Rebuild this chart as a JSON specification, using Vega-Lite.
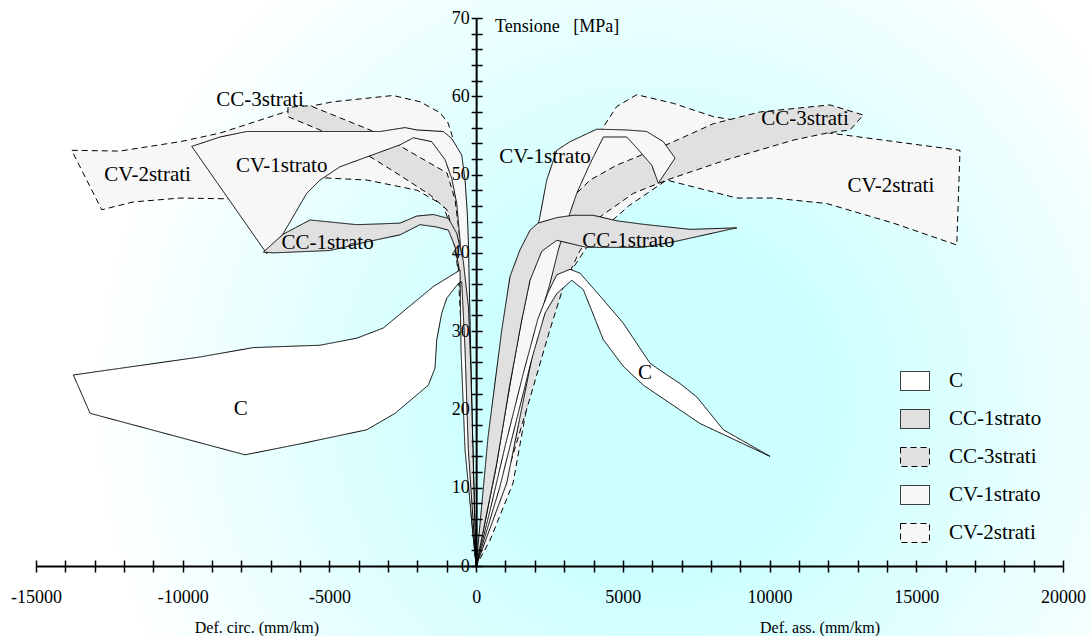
{
  "$schema": "https://vega.github.io/schema/vega-lite/v6.json",
  "width": 1027,
  "height": 548,
  "autosize": {"type": "none"},
  "padding": {"left": 36, "top": 18, "right": 27, "bottom": 70},
  "config": {"view": {"stroke": null}, "font": "Liberation Serif"},
  "resolve": {"axis": {"x": "independent", "y": "independent"}},
  "datasets": {
    "bg": [{"x": -16230, "x2": 20930, "y": 72.4, "y2": -9}],
    "poly": [
      {"s":"CV-2strati","side":"L","i":0,"x":0,"y":0},
      {"s":"CV-2strati","side":"L","i":1,"x":-100,"y":12},
      {"s":"CV-2strati","side":"L","i":2,"x":-220,"y":26},
      {"s":"CV-2strati","side":"L","i":3,"x":-380,"y":40},
      {"s":"CV-2strati","side":"L","i":4,"x":-560,"y":50},
      {"s":"CV-2strati","side":"L","i":5,"x":-821,"y":55},
      {"s":"CV-2strati","side":"L","i":6,"x":-958,"y":56.6},
      {"s":"CV-2strati","side":"L","i":7,"x":-1230,"y":57.9},
      {"s":"CV-2strati","side":"L","i":8,"x":-1909,"y":59.3},
      {"s":"CV-2strati","side":"L","i":9,"x":-2832,"y":60.1},
      {"s":"CV-2strati","side":"L","i":10,"x":-4877,"y":59.3},
      {"s":"CV-2strati","side":"L","i":11,"x":-6342,"y":58.2},
      {"s":"CV-2strati","side":"L","i":12,"x":-8728,"y":55.3},
      {"s":"CV-2strati","side":"L","i":13,"x":-10090,"y":54.2},
      {"s":"CV-2strati","side":"L","i":14,"x":-12150,"y":53},
      {"s":"CV-2strati","side":"L","i":15,"x":-13785,"y":53.1},
      {"s":"CV-2strati","side":"L","i":16,"x":-12760,"y":45.5},
      {"s":"CV-2strati","side":"L","i":17,"x":-11693,"y":46.5},
      {"s":"CV-2strati","side":"L","i":18,"x":-10090,"y":47},
      {"s":"CV-2strati","side":"L","i":19,"x":-8386,"y":46.9},
      {"s":"CV-2strati","side":"L","i":20,"x":-6800,"y":48.2},
      {"s":"CV-2strati","side":"L","i":21,"x":-5320,"y":49.6},
      {"s":"CV-2strati","side":"L","i":22,"x":-3718,"y":49.3},
      {"s":"CV-2strati","side":"L","i":23,"x":-2014,"y":48},
      {"s":"CV-2strati","side":"L","i":24,"x":-1128,"y":46.1},
      {"s":"CV-2strati","side":"L","i":25,"x":-821,"y":42.9},
      {"s":"CV-2strati","side":"L","i":26,"x":-617,"y":37.8},
      {"s":"CV-2strati","side":"L","i":27,"x":-450,"y":26},
      {"s":"CV-2strati","side":"L","i":28,"x":-280,"y":13},
      {"s":"CV-2strati","side":"L","i":29,"x":0,"y":0},

      {"s":"CV-2strati","side":"R","i":0,"x":0,"y":0},
      {"s":"CV-2strati","side":"R","i":1,"x":700,"y":9},
      {"s":"CV-2strati","side":"R","i":2,"x":1400,"y":20},
      {"s":"CV-2strati","side":"R","i":3,"x":2100,"y":31},
      {"s":"CV-2strati","side":"R","i":4,"x":2800,"y":41},
      {"s":"CV-2strati","side":"R","i":5,"x":3500,"y":49},
      {"s":"CV-2strati","side":"R","i":6,"x":4000,"y":53.5},
      {"s":"CV-2strati","side":"R","i":7,"x":4338,"y":56.1},
      {"s":"CV-2strati","side":"R","i":8,"x":4792,"y":58.7},
      {"s":"CV-2strati","side":"R","i":9,"x":5473,"y":60.2},
      {"s":"CV-2strati","side":"R","i":10,"x":6721,"y":59.1},
      {"s":"CV-2strati","side":"R","i":11,"x":8084,"y":57.4},
      {"s":"CV-2strati","side":"R","i":12,"x":9675,"y":56.4},
      {"s":"CV-2strati","side":"R","i":13,"x":12060,"y":55.3},
      {"s":"CV-2strati","side":"R","i":14,"x":16490,"y":53.1},
      {"s":"CV-2strati","side":"R","i":15,"x":16380,"y":41},
      {"s":"CV-2strati","side":"R","i":16,"x":14218,"y":43.8},
      {"s":"CV-2strati","side":"R","i":17,"x":11948,"y":46.3},
      {"s":"CV-2strati","side":"R","i":18,"x":10129,"y":47},
      {"s":"CV-2strati","side":"R","i":19,"x":8881,"y":47},
      {"s":"CV-2strati","side":"R","i":20,"x":6495,"y":49.3},
      {"s":"CV-2strati","side":"R","i":21,"x":5200,"y":46},
      {"s":"CV-2strati","side":"R","i":22,"x":4000,"y":42},
      {"s":"CV-2strati","side":"R","i":23,"x":3200,"y":37.5},
      {"s":"CV-2strati","side":"R","i":24,"x":2519,"y":32.3},
      {"s":"CV-2strati","side":"R","i":25,"x":2076,"y":27.6},
      {"s":"CV-2strati","side":"R","i":26,"x":1258,"y":10.6},
      {"s":"CV-2strati","side":"R","i":27,"x":474,"y":3.3},
      {"s":"CV-2strati","side":"R","i":28,"x":0,"y":0},

      {"s":"CC-3strati","side":"L","i":0,"x":0,"y":0},
      {"s":"CC-3strati","side":"L","i":1,"x":-208,"y":21.2},
      {"s":"CC-3strati","side":"L","i":2,"x":-378,"y":34},
      {"s":"CC-3strati","side":"L","i":3,"x":-549,"y":41.6},
      {"s":"CC-3strati","side":"L","i":4,"x":-719,"y":46.8},
      {"s":"CC-3strati","side":"L","i":5,"x":-992,"y":50.2},
      {"s":"CC-3strati","side":"L","i":6,"x":-2662,"y":53.8},
      {"s":"CC-3strati","side":"L","i":7,"x":-3616,"y":55.7},
      {"s":"CC-3strati","side":"L","i":8,"x":-5660,"y":58.8},
      {"s":"CC-3strati","side":"L","i":9,"x":-6413,"y":58.6},
      {"s":"CC-3strati","side":"L","i":10,"x":-6413,"y":57.4},
      {"s":"CC-3strati","side":"L","i":11,"x":-5323,"y":55.7},
      {"s":"CC-3strati","side":"L","i":12,"x":-3960,"y":53.1},
      {"s":"CC-3strati","side":"L","i":13,"x":-2594,"y":49.9},
      {"s":"CC-3strati","side":"L","i":14,"x":-1571,"y":47.4},
      {"s":"CC-3strati","side":"L","i":15,"x":-992,"y":45.5},
      {"s":"CC-3strati","side":"L","i":16,"x":-719,"y":41.6},
      {"s":"CC-3strati","side":"L","i":17,"x":-480,"y":34},
      {"s":"CC-3strati","side":"L","i":18,"x":-276,"y":21.2},
      {"s":"CC-3strati","side":"L","i":19,"x":0,"y":0},

      {"s":"CC-3strati","side":"R","i":0,"x":0,"y":0},
      {"s":"CC-3strati","side":"R","i":1,"x":600,"y":9},
      {"s":"CC-3strati","side":"R","i":2,"x":1200,"y":19},
      {"s":"CC-3strati","side":"R","i":3,"x":1800,"y":30},
      {"s":"CC-3strati","side":"R","i":4,"x":2200,"y":38},
      {"s":"CC-3strati","side":"R","i":5,"x":2700,"y":44},
      {"s":"CC-3strati","side":"R","i":6,"x":3370,"y":47.4},
      {"s":"CC-3strati","side":"R","i":7,"x":3882,"y":49.3},
      {"s":"CC-3strati","side":"R","i":8,"x":4792,"y":51.2},
      {"s":"CC-3strati","side":"R","i":9,"x":6608,"y":54},
      {"s":"CC-3strati","side":"R","i":10,"x":8084,"y":56.5},
      {"s":"CC-3strati","side":"R","i":11,"x":9675,"y":58},
      {"s":"CC-3strati","side":"R","i":12,"x":12060,"y":58.9},
      {"s":"CC-3strati","side":"R","i":13,"x":13195,"y":57.6},
      {"s":"CC-3strati","side":"R","i":14,"x":12740,"y":55.7},
      {"s":"CC-3strati","side":"R","i":15,"x":11948,"y":55.3},
      {"s":"CC-3strati","side":"R","i":16,"x":10810,"y":54.4},
      {"s":"CC-3strati","side":"R","i":17,"x":8540,"y":51.9},
      {"s":"CC-3strati","side":"R","i":18,"x":6495,"y":49.3},
      {"s":"CC-3strati","side":"R","i":19,"x":5357,"y":47.6},
      {"s":"CC-3strati","side":"R","i":20,"x":4222,"y":44.6},
      {"s":"CC-3strati","side":"R","i":21,"x":3500,"y":40},
      {"s":"CC-3strati","side":"R","i":22,"x":3000,"y":36},
      {"s":"CC-3strati","side":"R","i":23,"x":2500,"y":30},
      {"s":"CC-3strati","side":"R","i":24,"x":1800,"y":21},
      {"s":"CC-3strati","side":"R","i":25,"x":1000,"y":11},
      {"s":"CC-3strati","side":"R","i":26,"x":0,"y":0},

      {"s":"CV-1strato","side":"L","i":0,"x":0,"y":0},
      {"s":"CV-1strato","side":"L","i":1,"x":-60,"y":8},
      {"s":"CV-1strato","side":"L","i":2,"x":-130,"y":18},
      {"s":"CV-1strato","side":"L","i":3,"x":-200,"y":30},
      {"s":"CV-1strato","side":"L","i":4,"x":-266,"y":41.6},
      {"s":"CV-1strato","side":"L","i":5,"x":-300,"y":45},
      {"s":"CV-1strato","side":"L","i":6,"x":-378,"y":49.3},
      {"s":"CV-1strato","side":"L","i":7,"x":-491,"y":52.5},
      {"s":"CV-1strato","side":"L","i":8,"x":-832,"y":54.6},
      {"s":"CV-1strato","side":"L","i":9,"x":-1118,"y":55.5},
      {"s":"CV-1strato","side":"L","i":10,"x":-2024,"y":55.7},
      {"s":"CV-1strato","side":"L","i":11,"x":-2423,"y":56},
      {"s":"CV-1strato","side":"L","i":12,"x":-3275,"y":55.5},
      {"s":"CV-1strato","side":"L","i":13,"x":-7818,"y":55.5},
      {"s":"CV-1strato","side":"L","i":14,"x":-8728,"y":54.8},
      {"s":"CV-1strato","side":"L","i":15,"x":-9692,"y":53.6},
      {"s":"CV-1strato","side":"L","i":16,"x":-7136,"y":39.9},
      {"s":"CV-1strato","side":"L","i":17,"x":-6570,"y":42.5},
      {"s":"CV-1strato","side":"L","i":18,"x":-5773,"y":47.6},
      {"s":"CV-1strato","side":"L","i":19,"x":-5320,"y":49.3},
      {"s":"CV-1strato","side":"L","i":20,"x":-4638,"y":51},
      {"s":"CV-1strato","side":"L","i":21,"x":-2594,"y":53.8},
      {"s":"CV-1strato","side":"L","i":22,"x":-2140,"y":54.7},
      {"s":"CV-1strato","side":"L","i":23,"x":-1513,"y":54.2},
      {"s":"CV-1strato","side":"L","i":24,"x":-1060,"y":51.9},
      {"s":"CV-1strato","side":"L","i":25,"x":-832,"y":49.5},
      {"s":"CV-1strato","side":"L","i":26,"x":-661,"y":46.3},
      {"s":"CV-1strato","side":"L","i":27,"x":-549,"y":41.6},
      {"s":"CV-1strato","side":"L","i":28,"x":-450,"y":30},
      {"s":"CV-1strato","side":"L","i":29,"x":-330,"y":18},
      {"s":"CV-1strato","side":"L","i":30,"x":-170,"y":8},
      {"s":"CV-1strato","side":"L","i":31,"x":0,"y":0},

      {"s":"CV-1strato","side":"R","i":0,"x":0,"y":0},
      {"s":"CV-1strato","side":"R","i":1,"x":650,"y":12},
      {"s":"CV-1strato","side":"R","i":2,"x":1100,"y":22},
      {"s":"CV-1strato","side":"R","i":3,"x":1500,"y":30.5},
      {"s":"CV-1strato","side":"R","i":4,"x":1800,"y":36},
      {"s":"CV-1strato","side":"R","i":5,"x":2120,"y":43.6},
      {"s":"CV-1strato","side":"R","i":6,"x":2406,"y":49.3},
      {"s":"CV-1strato","side":"R","i":7,"x":2747,"y":53.1},
      {"s":"CV-1strato","side":"R","i":8,"x":3200,"y":54.2},
      {"s":"CV-1strato","side":"R","i":9,"x":4110,"y":55.8},
      {"s":"CV-1strato","side":"R","i":10,"x":5132,"y":55.7},
      {"s":"CV-1strato","side":"R","i":11,"x":5814,"y":55.5},
      {"s":"CV-1strato","side":"R","i":12,"x":6380,"y":54.2},
      {"s":"CV-1strato","side":"R","i":13,"x":6779,"y":52.1},
      {"s":"CV-1strato","side":"R","i":14,"x":6210,"y":48.9},
      {"s":"CV-1strato","side":"R","i":15,"x":5985,"y":51.2},
      {"s":"CV-1strato","side":"R","i":16,"x":5500,"y":53.3},
      {"s":"CV-1strato","side":"R","i":17,"x":5132,"y":54.8},
      {"s":"CV-1strato","side":"R","i":18,"x":4335,"y":54.8},
      {"s":"CV-1strato","side":"R","i":19,"x":3882,"y":51.4},
      {"s":"CV-1strato","side":"R","i":20,"x":3428,"y":47.6},
      {"s":"CV-1strato","side":"R","i":21,"x":3200,"y":45.1},
      {"s":"CV-1strato","side":"R","i":22,"x":2802,"y":40.4},
      {"s":"CV-1strato","side":"R","i":23,"x":2519,"y":36.1},
      {"s":"CV-1strato","side":"R","i":24,"x":2178,"y":31.8},
      {"s":"CV-1strato","side":"R","i":25,"x":1724,"y":23.3},
      {"s":"CV-1strato","side":"R","i":26,"x":1043,"y":10.6},
      {"s":"CV-1strato","side":"R","i":27,"x":0,"y":0},

      {"s":"CC-1strato","side":"L","i":0,"x":0,"y":0},
      {"s":"CC-1strato","side":"L","i":1,"x":-50,"y":6},
      {"s":"CC-1strato","side":"L","i":2,"x":-110,"y":15},
      {"s":"CC-1strato","side":"L","i":3,"x":-180,"y":25},
      {"s":"CC-1strato","side":"L","i":4,"x":-260,"y":33},
      {"s":"CC-1strato","side":"L","i":5,"x":-440,"y":39},
      {"s":"CC-1strato","side":"L","i":6,"x":-661,"y":42.5},
      {"s":"CC-1strato","side":"L","i":7,"x":-947,"y":44.4},
      {"s":"CC-1strato","side":"L","i":8,"x":-1459,"y":44.9},
      {"s":"CC-1strato","side":"L","i":9,"x":-2024,"y":44.7},
      {"s":"CC-1strato","side":"L","i":10,"x":-2594,"y":43.8},
      {"s":"CC-1strato","side":"L","i":11,"x":-3275,"y":43.7},
      {"s":"CC-1strato","side":"L","i":12,"x":-4070,"y":43.6},
      {"s":"CC-1strato","side":"L","i":13,"x":-5660,"y":44.2},
      {"s":"CC-1strato","side":"L","i":14,"x":-6570,"y":42.4},
      {"s":"CC-1strato","side":"L","i":15,"x":-7252,"y":40.1},
      {"s":"CC-1strato","side":"L","i":16,"x":-6900,"y":40},
      {"s":"CC-1strato","side":"L","i":17,"x":-4977,"y":40.3},
      {"s":"CC-1strato","side":"L","i":18,"x":-3728,"y":41.4},
      {"s":"CC-1strato","side":"L","i":19,"x":-2594,"y":42.3},
      {"s":"CC-1strato","side":"L","i":20,"x":-1912,"y":43.6},
      {"s":"CC-1strato","side":"L","i":21,"x":-1343,"y":43.3},
      {"s":"CC-1strato","side":"L","i":22,"x":-947,"y":42.9},
      {"s":"CC-1strato","side":"L","i":23,"x":-719,"y":40.8},
      {"s":"CC-1strato","side":"L","i":24,"x":-580,"y":38},
      {"s":"CC-1strato","side":"L","i":25,"x":-500,"y":33},
      {"s":"CC-1strato","side":"L","i":26,"x":-436,"y":27.6},
      {"s":"CC-1strato","side":"L","i":27,"x":-320,"y":15},
      {"s":"CC-1strato","side":"L","i":28,"x":-160,"y":6},
      {"s":"CC-1strato","side":"L","i":29,"x":0,"y":0},

      {"s":"CC-1strato","side":"R","i":0,"x":0,"y":0},
      {"s":"CC-1strato","side":"R","i":1,"x":406,"y":16.5},
      {"s":"CC-1strato","side":"R","i":2,"x":872,"y":30.1},
      {"s":"CC-1strato","side":"R","i":3,"x":1155,"y":37},
      {"s":"CC-1strato","side":"R","i":4,"x":1496,"y":40.4},
      {"s":"CC-1strato","side":"R","i":5,"x":1837,"y":42.9},
      {"s":"CC-1strato","side":"R","i":6,"x":2110,"y":43.8},
      {"s":"CC-1strato","side":"R","i":7,"x":2747,"y":44.5},
      {"s":"CC-1strato","side":"R","i":8,"x":3302,"y":44.8},
      {"s":"CC-1strato","side":"R","i":9,"x":3984,"y":44.8},
      {"s":"CC-1strato","side":"R","i":10,"x":4792,"y":44.1},
      {"s":"CC-1strato","side":"R","i":11,"x":5586,"y":43.7},
      {"s":"CC-1strato","side":"R","i":12,"x":7290,"y":43},
      {"s":"CC-1strato","side":"R","i":13,"x":8881,"y":43.2},
      {"s":"CC-1strato","side":"R","i":14,"x":6720,"y":41.4},
      {"s":"CC-1strato","side":"R","i":15,"x":5688,"y":40.7},
      {"s":"CC-1strato","side":"R","i":16,"x":3769,"y":40.7},
      {"s":"CC-1strato","side":"R","i":17,"x":2747,"y":41.6},
      {"s":"CC-1strato","side":"R","i":18,"x":2236,"y":40.2},
      {"s":"CC-1strato","side":"R","i":19,"x":1837,"y":36.5},
      {"s":"CC-1strato","side":"R","i":20,"x":1554,"y":31.4},
      {"s":"CC-1strato","side":"R","i":21,"x":1155,"y":23.3},
      {"s":"CC-1strato","side":"R","i":22,"x":702,"y":13.1},
      {"s":"CC-1strato","side":"R","i":23,"x":0,"y":0},

      {"s":"C","side":"L","i":0,"x":0,"y":0},
      {"s":"C","side":"L","i":1,"x":-378,"y":14.8},
      {"s":"C","side":"L","i":2,"x":-515,"y":27.6},
      {"s":"C","side":"L","i":3,"x":-549,"y":37.8},
      {"s":"C","side":"L","i":4,"x":-1459,"y":35.7},
      {"s":"C","side":"L","i":5,"x":-3163,"y":30.4},
      {"s":"C","side":"L","i":6,"x":-4070,"y":29.1},
      {"s":"C","side":"L","i":7,"x":-5320,"y":28.2},
      {"s":"C","side":"L","i":8,"x":-7593,"y":27.9},
      {"s":"C","side":"L","i":9,"x":-9410,"y":26.7},
      {"s":"C","side":"L","i":10,"x":-13727,"y":24.4},
      {"s":"C","side":"L","i":11,"x":-13155,"y":19.5},
      {"s":"C","side":"L","i":12,"x":-7876,"y":14.2},
      {"s":"C","side":"L","i":13,"x":-6000,"y":15.6},
      {"s":"C","side":"L","i":14,"x":-3728,"y":17.4},
      {"s":"C","side":"L","i":15,"x":-2764,"y":19.5},
      {"s":"C","side":"L","i":16,"x":-1629,"y":23.1},
      {"s":"C","side":"L","i":17,"x":-1401,"y":25.3},
      {"s":"C","side":"L","i":18,"x":-1343,"y":28.9},
      {"s":"C","side":"L","i":19,"x":-1172,"y":32.3},
      {"s":"C","side":"L","i":20,"x":-1002,"y":34.2},
      {"s":"C","side":"L","i":21,"x":-607,"y":36.1},
      {"s":"C","side":"L","i":22,"x":-491,"y":36.3},
      {"s":"C","side":"L","i":23,"x":-378,"y":27.6},
      {"s":"C","side":"L","i":24,"x":-266,"y":14.8},
      {"s":"C","side":"L","i":25,"x":0,"y":0},

      {"s":"C","side":"R","i":0,"x":0,"y":0},
      {"s":"C","side":"R","i":1,"x":500,"y":7.5},
      {"s":"C","side":"R","i":2,"x":1000,"y":15.5},
      {"s":"C","side":"R","i":3,"x":1600,"y":24.5},
      {"s":"C","side":"R","i":4,"x":2100,"y":31.5},
      {"s":"C","side":"R","i":5,"x":2460,"y":35},
      {"s":"C","side":"R","i":6,"x":2747,"y":37.2},
      {"s":"C","side":"R","i":7,"x":3200,"y":37.9},
      {"s":"C","side":"R","i":8,"x":3541,"y":37.4},
      {"s":"C","side":"R","i":9,"x":4335,"y":34},
      {"s":"C","side":"R","i":10,"x":5017,"y":31},
      {"s":"C","side":"R","i":11,"x":5926,"y":25.9},
      {"s":"C","side":"R","i":12,"x":6267,"y":25},
      {"s":"C","side":"R","i":13,"x":6949,"y":23.3},
      {"s":"C","side":"R","i":14,"x":7518,"y":21.6},
      {"s":"C","side":"R","i":15,"x":8425,"y":17.4},
      {"s":"C","side":"R","i":16,"x":10016,"y":14},
      {"s":"C","side":"R","i":17,"x":7631,"y":18.2},
      {"s":"C","side":"R","i":18,"x":5698,"y":23.1},
      {"s":"C","side":"R","i":19,"x":5017,"y":25.5},
      {"s":"C","side":"R","i":20,"x":4335,"y":28.9},
      {"s":"C","side":"R","i":21,"x":3653,"y":35.3},
      {"s":"C","side":"R","i":22,"x":3258,"y":36.5},
      {"s":"C","side":"R","i":23,"x":2747,"y":34.8},
      {"s":"C","side":"R","i":24,"x":2348,"y":32.3},
      {"s":"C","side":"R","i":25,"x":1900,"y":26.5},
      {"s":"C","side":"R","i":26,"x":1400,"y":19},
      {"s":"C","side":"R","i":27,"x":800,"y":10},
      {"s":"C","side":"R","i":28,"x":0,"y":0}
    ],
    "lab": [
      {"t":"CC-3strati","x":-7365,"y":59.5},
      {"t":"CV-1strato","x":-6625,"y":51.1},
      {"t":"CV-2strati","x":-11199,"y":49.9},
      {"t":"CC-1strato","x":-5064,"y":41.3},
      {"t":"C","x":-8019,"y":20.0},
      {"t":"CV-1strato","x":2348,"y":52.3},
      {"t":"CC-3strati","x":11209,"y":57.1},
      {"t":"CV-2strati","x":14133,"y":48.6},
      {"t":"CC-1strato","x":5187,"y":41.5},
      {"t":"C","x":5756,"y":24.65}
    ],
    "ttlx": [
      {"t":"Def. circ. (mm/km)","x":-7470,"y":-7.9},
      {"t":"Def. ass. (mm/km)","x":11720,"y":-7.9}
    ],
    "ttly": [
      {"t":"Tensione\u00a0\u00a0\u00a0[MPa]","x":644,"y":68.9}
    ]
  },
  "layer": [
    {
      "data": {"name": "bg"},
      "mark": {"type": "rect", "fill": {"gradient": "radial", "x1": 0.6, "y1": 0.58, "r1": 0, "x2": 0.6, "y2": 0.58, "r2": 0.52, "stops": [{"offset": 0, "color": "#ccffff"}, {"offset": 0.3, "color": "#ccffff"}, {"offset": 1, "color": "#ffffff"}]}, "stroke": null},
      "encoding": {
        "x": {"field": "x", "type": "quantitative", "scale": {"domain": [-15000, 20000], "nice": false, "zero": false},
          "axis": {"orient": "bottom", "title": null, "grid": false, "zindex": 2,
            "values": [-15000,-14000,-13000,-12000,-11000,-10000,-9000,-8000,-7000,-6000,-5000,-4000,-3000,-2000,-1000,0,1000,2000,3000,4000,5000,6000,7000,8000,9000,10000,11000,12000,13000,14000,15000,16000,17000,18000,19000,20000],
            "labelExpr": "datum.value % 5000 === 0 ? '' + datum.value : ''",
            "domainColor": "black", "domainWidth": 2, "tickColor": "black", "tickWidth": 1.5, "tickSize": 6,
            "labelPadding": 16, "labelFont": "Liberation Serif", "labelFontSize": 18, "labelColor": "black",
            "labelFlush": false, "labelOverlap": false, "labelBound": false}},
        "x2": {"field": "x2"},
        "y": {"field": "y", "type": "quantitative", "scale": {"domain": [0, 70], "nice": false, "zero": false},
          "axis": {"orient": "left", "offset": -440.14, "title": null, "grid": false, "zindex": 2,
            "values": [0,2,4,6,8,10,12,14,16,18,20,22,24,26,28,30,32,34,36,38,40,42,44,46,48,50,52,54,56,58,60,62,64,66,68,70],
            "labelExpr": "datum.value % 10 === 0 ? '' + datum.value : ''",
            "domainColor": "black", "domainWidth": 2, "tickColor": "black", "tickWidth": 1.5, "tickSize": 5,
            "labelPadding": 2, "labelFont": "Liberation Serif", "labelFontSize": 18, "labelColor": "black",
            "labelFlush": false, "labelOverlap": false, "labelBound": false}},
        "y2": {"field": "y2"}
      }
    },
    {
      "data": {"name": "poly"},
      "mark": {"type": "line", "stroke": "black", "strokeWidth": 1, "interpolate": "linear"},
      "encoding": {
        "x": {"field": "x", "type": "quantitative",
          "axis": {"orient": "top", "offset": -548, "title": null, "grid": false, "labels": false, "domain": false, "zindex": 2,
            "values": [-15000,-14000,-13000,-12000,-11000,-10000,-9000,-8000,-7000,-6000,-5000,-4000,-3000,-2000,-1000,0,1000,2000,3000,4000,5000,6000,7000,8000,9000,10000,11000,12000,13000,14000,15000,16000,17000,18000,19000,20000],
            "tickColor": "black", "tickWidth": 1.5, "tickSize": 6}},
        "y": {"field": "y", "type": "quantitative",
          "axis": {"orient": "right", "offset": -586.86, "title": null, "grid": false, "labels": false, "domain": false, "zindex": 2,
            "values": [0,2,4,6,8,10,12,14,16,18,20,22,24,26,28,30,32,34,36,38,40,42,44,46,48,50,52,54,56,58,60,62,64,66,68,70],
            "tickColor": "black", "tickWidth": 1.5, "tickSize": 6}},
        "detail": [{"field": "s"}, {"field": "side"}],
        "order": {"field": "i", "type": "quantitative"},
        "fill": {"field": "s", "type": "nominal",
          "scale": {"domain": ["C", "CC-1strato", "CC-3strati", "CV-1strato", "CV-2strati"], "range": ["#ffffff", "#e0e0e0", "#e0e0e0", "#f7f7f7", "#f7f7f7"]},
          "legend": {"title": null, "orient": "none", "legendX": 864, "legendY": 348, "padding": 0,
            "symbolType": "M-1,-0.655H1V0.655H-1Z", "symbolSize": 841, "symbolStrokeColor": "black", "symbolStrokeWidth": 1,
            "labelFont": "Liberation Serif", "labelFontSize": 21, "labelColor": "black", "labelOffset": 19, "rowPadding": 11,
            "encode": {"symbols": {"update": {"stroke": {"value": "black"}, "strokeWidth": {"value": 1}}}}}},
        "strokeDash": {"field": "s", "type": "nominal",
          "scale": {"domain": ["C", "CC-1strato", "CC-3strati", "CV-1strato", "CV-2strati"], "range": [[1, 0], [1, 0], [6, 4], [1, 0], [6, 4]]},
          "legend": {"title": null, "orient": "none", "legendX": 864, "legendY": 348, "padding": 0,
            "symbolType": "M-1,-0.655H1V0.655H-1Z", "symbolSize": 841, "symbolStrokeColor": "black", "symbolStrokeWidth": 1,
            "labelFont": "Liberation Serif", "labelFontSize": 21, "labelColor": "black", "labelOffset": 19, "rowPadding": 11,
            "encode": {"symbols": {"update": {"stroke": {"value": "black"}, "strokeWidth": {"value": 1}}}}}}
      }
    },
    {
      "data": {"name": "lab"},
      "mark": {"type": "text", "font": "Liberation Serif", "fontSize": 21, "color": "black", "align": "center", "baseline": "middle"},
      "encoding": {
        "x": {"field": "x", "type": "quantitative", "axis": null},
        "y": {"field": "y", "type": "quantitative", "axis": null},
        "text": {"field": "t"}
      }
    },
    {
      "data": {"name": "ttlx"},
      "mark": {"type": "text", "font": "Liberation Serif", "fontSize": 16, "color": "black", "align": "center", "baseline": "middle"},
      "encoding": {
        "x": {"field": "x", "type": "quantitative", "axis": null},
        "y": {"field": "y", "type": "quantitative", "axis": null},
        "text": {"field": "t"}
      }
    },
    {
      "data": {"name": "ttly"},
      "mark": {"type": "text", "font": "Liberation Serif", "fontSize": 18, "color": "black", "align": "left", "baseline": "middle"},
      "encoding": {
        "x": {"field": "x", "type": "quantitative", "axis": null},
        "y": {"field": "y", "type": "quantitative", "axis": null},
        "text": {"field": "t"}
      }
    }
  ]
}
